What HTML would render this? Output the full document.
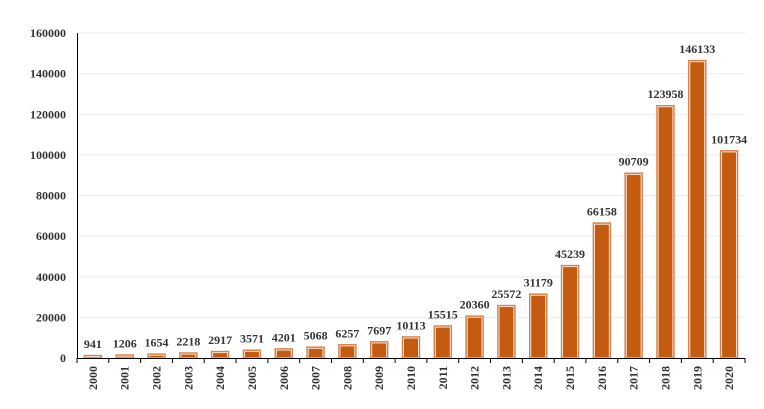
<!DOCTYPE html>
<html><head><meta charset="utf-8"><style>body{margin:0;background:#fff}svg{display:block}text{font-family:"Liberation Serif",serif;font-weight:bold;fill:#333;font-size:12px}</style></head><body>
<svg id="s" width="764" height="409" xmlns="http://www.w3.org/2000/svg"></svg>
<script>
const v=[941,1206,1654,2218,2917,3571,4201,5068,6257,7697,10113,15515,20360,25572,31179,45239,66158,90709,123958,146133,101734];
const s=document.getElementById('s');let h='';
const y0=358,k=325/160000,x0=77,bw=(745-77)/21;
for(let i=0;i<=8;i++){const y=y0-i*20000*k;
 if(i>0)h+=`<line x1="78" x2="745" y1="${y}" y2="${y}" stroke="#ececec"/>`;
 h+=`<text x="66" y="${y+4}" text-anchor="end">${i*20000}</text>`;}
v.forEach((d,i)=>{const cx=x0+bw*(i+0.5),t=y0-d*k,H=Math.max(d*k,1.5);
 h+=`<rect x="${cx-8}" y="${y0-H}" width="16" height="${H}" fill="#c55a11" stroke="#fff" stroke-width="2"/>`;
 h+=`<rect x="${cx-8.5}" y="${y0-H-0.5}" width="17" height="${H+0.5}" fill="none" stroke="#d8824a" stroke-width="1.5"/>`;
 h+=`<text x="${cx}" y="${t-8}" text-anchor="middle">${d}</text>`;
 h+=`<text transform="translate(${cx+4},366) rotate(-90)" text-anchor="end">${2000+i}</text>`;
 h+=`<line x1="${x0+bw*i}" x2="${x0+bw*i}" y1="358" y2="363" stroke="#000"/>`;});
h+=`<line x1="${x0+bw*21}" x2="${x0+bw*21}" y1="358" y2="363" stroke="#000"/>`;
h+=`<line x1="77" x2="745" y1="358.5" y2="358.5" stroke="#000"/><line x1="77.5" x2="77.5" y1="33" y2="358" stroke="#000"/>`;
s.innerHTML=h;
</script></body></html>
